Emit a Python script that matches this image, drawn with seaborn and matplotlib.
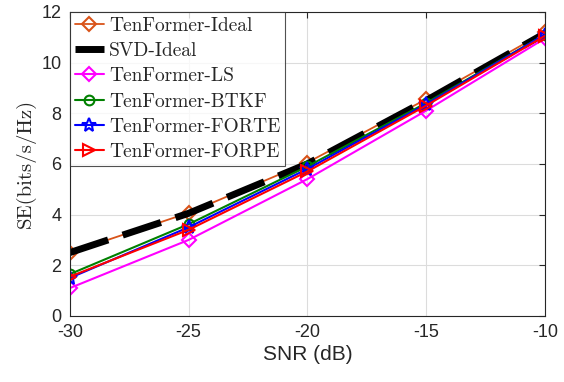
import seaborn as sns
import matplotlib.pyplot as plt
import pandas as pd

sns.set_style('white')
plt.rcParams['font.family'] = ['Liberation Sans', 'DejaVu Sans']
plt.rcParams['axes.unicode_minus'] = False
plt.rcParams['mathtext.fontset'] = 'cm'

# Data
snr = [-30, -25, -20, -15, -10]
tenformer_ideal = [2.5, 4.07, 6.05, 8.55, 11.2]
svd_ideal = [2.5, 4.05, 6.0, 8.5, 11.15]
tenformer_ls = [1.1, 3.0, 5.4, 8.1, 10.95]
tenformer_btkf = [1.65, 3.62, 5.9, 8.4, 11.1]
tenformer_forte = [1.5, 3.5, 5.8, 8.35, 11.1]
tenformer_forpe = [1.55, 3.4, 5.7, 8.3, 11.05]

names = ['TenFormer-Ideal', 'SVD-Ideal', 'TenFormer-LS',
         'TenFormer-BTKF', 'TenFormer-FORTE', 'TenFormer-FORPE']
values = [tenformer_ideal, svd_ideal, tenformer_ls,
          tenformer_btkf, tenformer_forte, tenformer_forpe]

df = pd.DataFrame({'SNR': snr * len(names),
                   'SE': sum(values, []),
                   'Method': [n for n in names for _ in snr]})

styles = {
    'TenFormer-Ideal': dict(color='#D95319', marker='D', lw=1.3, ms=7),
    'SVD-Ideal': dict(color='black', marker='', lw=5, dashes=(5.8, 2.2)),
    'TenFormer-LS': dict(color='#FF00FF', marker='D', lw=1.5, ms=7),
    'TenFormer-BTKF': dict(color='#008000', marker='o', lw=1.5, ms=7),
    'TenFormer-FORTE': dict(color='#0000FF', marker='*', lw=1.5, ms=10),
    'TenFormer-FORPE': dict(color='#FF0000', marker='>', lw=1.5, ms=8),
}

fig = plt.figure(figsize=(5.64, 3.82), dpi=100)
ax = fig.add_axes([0.124, 0.173, 0.842, 0.796])

for name in names:
    st = styles[name]
    sub = df[df['Method'] == name]
    kw = dict(color=st['color'], linewidth=st['lw'], label=name)
    if st['marker']:
        kw.update(marker=st['marker'], markersize=st['ms'],
                  markerfacecolor='none', markeredgecolor=st['color'],
                  markeredgewidth=1.5)
    if 'dashes' in st:
        kw.update(dashes=st['dashes'])
    sns.lineplot(data=sub, x='SNR', y='SE', ax=ax, **kw)

ax.set_xlim(-30, -10)
ax.set_ylim(0, 12)
ax.set_xticks([-30, -25, -20, -15, -10])
ax.set_yticks([0, 2, 4, 6, 8, 10, 12])
ax.grid(True, color='#dcdcdc', linewidth=0.8)
ax.tick_params(direction='in', top=True, right=True, labelsize=13,
               colors='#262626', length=4, pad=6)
for s in ax.spines.values():
    s.set_color('#262626')
    s.set_linewidth(0.8)

ax.set_xlabel('SNR (dB)', fontsize=15, color='#262626', labelpad=3)
ax.set_ylabel('SE(bits/s/Hz)', fontsize=15, family='cmr10', color='#262626',
              labelpad=4)

leg = ax.legend(loc='upper left', prop={'family': 'cmr10', 'size': 14},
                frameon=True, fancybox=False, edgecolor='#262626',
                borderaxespad=0, handlelength=1.5, handletextpad=0.25,
                labelspacing=0.38, borderpad=0.25)
leg.get_frame().set_linewidth(0.8)

plt.savefig('out.png', dpi=100)
